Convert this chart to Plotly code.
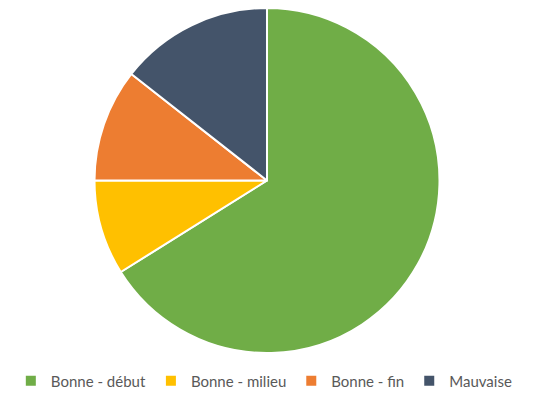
import plotly.graph_objects as go

labels = ["Bonne - début", "Bonne - milieu", "Bonne - fin", "Mauvaise"]
values = [66.1, 8.9, 10.6, 14.4]
colors = ["#70AD47", "#FFC000", "#ED7D31", "#44546A"]

fig = go.Figure(go.Pie(
    labels=labels,
    values=values,
    marker=dict(colors=colors, line=dict(color="white", width=2)),
    sort=False,
    direction="clockwise",
    rotation=0,
    textinfo="none",
    hoverinfo="label+percent",
    domain=dict(x=[0, 0.97], y=[0, 1]),
))

fig.update_layout(
    width=534, height=404,
    margin=dict(l=0, r=0, t=0, b=59),
    paper_bgcolor="white",
    showlegend=True,
    legend=dict(
        orientation="h",
        x=0.48, xanchor="center",
        y=-0.081, yanchor="middle",
        font=dict(family="Lato, Liberation Sans, sans-serif", size=15, color="#595959"),
        itemwidth=30,
        tracegroupgap=0,
    ),
)

fig.write_html("out.html")
